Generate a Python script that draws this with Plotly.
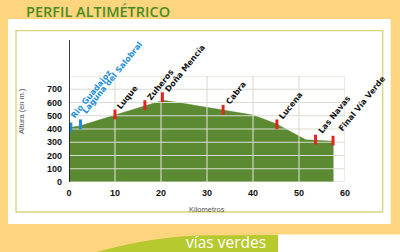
import math
import plotly.graph_objects as go

# ---------------- data ----------------
profile_km = [0, 2.5, 10, 16.5, 20.5, 24, 33.5, 40, 45, 51.5, 57.5]
profile_alt = [410, 425, 505, 572, 617, 598, 543, 505, 440, 318, 308]

station_names = ["Rio Guadajoz", "Laguna del Salobral", "Luque", "Zuheros",
                 "Doña Mencía", "Cabra", "Lucena", "Las Navas", "Final Vía Verde"]
station_km = [0.4, 2.5, 10, 16.5, 20.3, 33.5, 45.2, 53.6, 57.4]
station_alt = [412, 435, 510, 580, 640, 545, 435, 320, 312]
station_group = ["blue", "blue", "red", "red", "red", "red", "red", "red", "red"]

x_ticks = [0, 10, 20, 30, 40, 50, 60]
y_ticks = [0, 100, 200, 300, 400, 500, 600, 700, 800]
y_ticktext = ["0", "100", "200", "300", "400", "500", "600", "700", ""]

# ---------------- styling ----------------
W, H = 400, 252
L, R, T, B = 69, 55, 76, 70
PW, PH = W - L - R, H - T - B

ORANGE = "#FCD57E"
GREEN = "#5B8A33"
GRID = "#D9DDD2"
RED = "#E0261E"
BLUE = "#1E8FD6"

ANGLE = 51
CHAR_W = 5.3
# offset (screen px, right / down) of label start from its marker
START_OFF = {"blue": (3, -6), "red": (7, -4)}


def px(xp):
    return (xp - L) / PW


def py(yp):
    return (H - B - yp) / PH


fig = go.Figure()

fig.add_trace(go.Scatter(
    x=profile_km, y=profile_alt, mode="lines", fill="tozeroy",
    fillcolor=GREEN, line=dict(color=GREEN, width=0.5), hoverinfo="skip",
    showlegend=False))

# grid lines drawn above the fill, built from the tick lists
gx, gy = [], []
for v in y_ticks:
    gx += [x_ticks[0], x_ticks[-1], None]
    gy += [v, v, None]
for v in x_ticks[1:]:
    gx += [v, v, None]
    gy += [y_ticks[0], y_ticks[-1], None]
fig.add_trace(go.Scatter(x=gx, y=gy, mode="lines",
                         line=dict(color=GRID, width=1.1), hoverinfo="skip",
                         showlegend=False))

colors = {"blue": BLUE, "red": RED}
for grp in ["blue", "red"]:
    xs = [k for k, g in zip(station_km, station_group) if g == grp]
    ys = [a for a, g in zip(station_alt, station_group) if g == grp]
    fig.add_trace(go.Scatter(
        x=xs, y=ys, mode="markers", cliponaxis=False,
        marker=dict(symbol="line-ns-open", size=7, color=colors[grp],
                    line=dict(color=colors[grp], width=3)),
        hoverinfo="skip", showlegend=False))

annotations = []
c, s = math.cos(math.radians(ANGLE)), math.sin(math.radians(ANGLE))
for name, k, a, g in zip(station_names, station_km, station_alt, station_group):
    w = len(name) * CHAR_W
    dx, dy = START_OFF[g]
    # left-middle of the text box relative to the baseline start
    lmx, lmy = dx - 3.5 * s, dy - 3.5 * c
    cx = lmx + (w / 2) * c
    cy = lmy - (w / 2) * s
    annotations.append(dict(
        x=k, y=a, xref="x", yref="y", text="<b>" + name + "</b>",
        textangle=-ANGLE, xanchor="center", yanchor="middle", showarrow=False,
        xshift=cx, yshift=-cy,
        font=dict(family="DejaVu Sans", size=8,
                  color=BLUE if g == "blue" else "#111111")))

# titles
annotations.append(dict(x=px(24), y=py(12), xref="paper", yref="paper",
                        text="PERFIL ALTIMÉTRICO", showarrow=False,
                        xanchor="left", yanchor="middle",
                        font=dict(family="Open Sans", size=14.5, color="#4B8B1F",
                                  weight=600)))
annotations.append(dict(x=px(21), y=py(111), xref="paper", yref="paper",
                        text="Altura (en m.)", showarrow=False, textangle=-90,
                        xanchor="center", yanchor="middle",
                        font=dict(family="Liberation Sans", size=7.5,
                                  color="#555555")))
annotations.append(dict(x=px(207), y=py(209), xref="paper", yref="paper",
                        text="Kilometros", showarrow=False,
                        xanchor="center", yanchor="middle",
                        font=dict(family="Liberation Sans", size=7.5,
                                  color="#555555")))
annotations.append(dict(x=px(226), y=py(241.5), xref="paper", yref="paper",
                        text="vías verdes", showarrow=False,
                        xanchor="center", yanchor="middle",
                        font=dict(family="Open Sans", size=15.5,
                                  color="#FFFFFF")))

shapes = [
    # white card
    dict(type="rect", xref="paper", yref="paper", layer="below",
         x0=px(8), x1=px(390.7), y0=py(224), y1=py(19),
         fillcolor="#FFFFFF", line=dict(width=0)),
    # inner border
    dict(type="rect", xref="paper", yref="paper", layer="below",
         x0=px(16), x1=px(382.7), y0=py(212), y1=py(30.7),
         fillcolor="rgba(0,0,0,0)", line=dict(color="#D6D67C", width=1.3)),
    # white bottom-right strip
    dict(type="rect", xref="paper", yref="paper", layer="below",
         x0=px(278), x1=px(402), y0=py(254), y1=py(234.5),
         fillcolor="#FFFFFF", line=dict(width=0)),
    # green swoosh
    dict(type="path", xref="paper", yref="paper", layer="below",
         path=(f"M {px(93)},{py(253)} Q {px(150)},{py(237)} {px(200)},{py(235.5)} "
               f"L {px(278)},{py(235)} L {px(278)},{py(253)} Z"),
         fillcolor="#B6C92E", line=dict(width=0)),
    # y axis line extending above the plot
    dict(type="line", xref="x", yref="paper", layer="above",
         x0=0, x1=0, y0=0, y1=py(40),
         line=dict(color="#111111", width=1.6)),
]

fig.update_layout(
    width=W, height=H, margin=dict(l=L, r=R, t=T, b=B, pad=0),
    paper_bgcolor=ORANGE, plot_bgcolor="rgba(0,0,0,0)",
    showlegend=False, annotations=annotations, shapes=shapes,
    xaxis=dict(range=[x_ticks[0], x_ticks[-1]], tickvals=x_ticks,
               showgrid=False, zeroline=False, showline=False,
               ticks="", ticklabelstandoff=4,
               tickfont=dict(family="Liberation Sans", size=9, color="#111111",
                             weight="bold")),
    yaxis=dict(range=[y_ticks[0], y_ticks[-1]], tickvals=y_ticks,
               ticktext=y_ticktext, showgrid=False, zeroline=False,
               showline=False, ticks="", ticklabelstandoff=6,
               tickfont=dict(family="Liberation Sans", size=9, color="#111111",
                             weight="bold")),
)

fig.write_html("out.html")
